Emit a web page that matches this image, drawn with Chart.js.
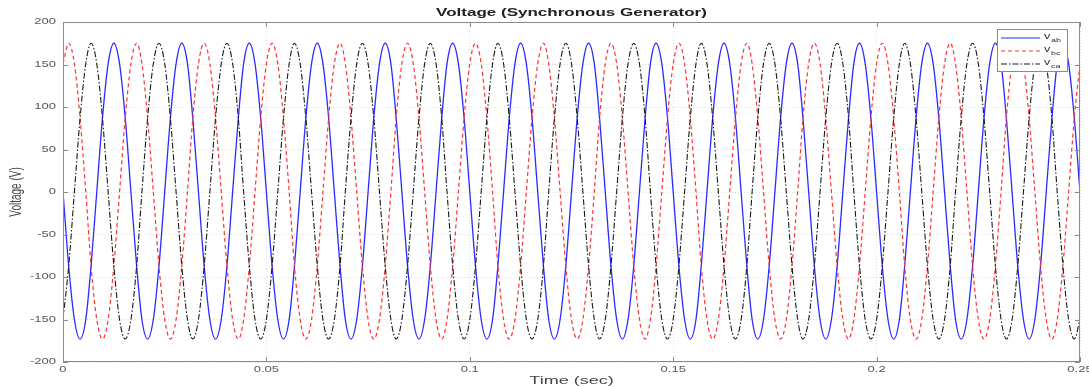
<!DOCTYPE html>
<html>
<head>
<meta charset="utf-8">
<title>Voltage (Synchronous Generator)</title>
<script src="https://cdn.jsdelivr.net/npm/chart.js@4.4.1/dist/chart.umd.min.js"></script>
<style>
	html, body { margin: 0; padding: 0; background: #ffffff; }
	#wrap { width: 1089px; height: 387px; position: relative; }
</style>
</head>
<body>
<div id="wrap"><canvas id="voltage-chart"></canvas></div>
<script>
// Sample times (s), one sample every 30 electrical degrees at 60 Hz.
const timeSec = [
	0, 0.0014, 0.0028, 0.0042, 0.0056, 0.0069, 0.0083, 0.0097, 0.0111, 0.0125, 0.0139, 0.0153,
	0.0167, 0.0181, 0.0194, 0.0208, 0.0222, 0.0236, 0.025, 0.0264, 0.0278, 0.0292, 0.0306, 0.0319,
	0.0333, 0.0347, 0.0361, 0.0375, 0.0389, 0.0403, 0.0417, 0.0431, 0.0444, 0.0458, 0.0472, 0.0486,
	0.05, 0.0514, 0.0528, 0.0542, 0.0556, 0.0569, 0.0583, 0.0597, 0.0611, 0.0625, 0.0639, 0.0653,
	0.0667, 0.0681, 0.0694, 0.0708, 0.0722, 0.0736, 0.075, 0.0764, 0.0778, 0.0792, 0.0806, 0.0819,
	0.0833, 0.0847, 0.0861, 0.0875, 0.0889, 0.0903, 0.0917, 0.0931, 0.0944, 0.0958, 0.0972, 0.0986,
	0.1, 0.1014, 0.1028, 0.1042, 0.1056, 0.1069, 0.1083, 0.1097, 0.1111, 0.1125, 0.1139, 0.1153,
	0.1167, 0.1181, 0.1194, 0.1208, 0.1222, 0.1236, 0.125, 0.1264, 0.1278, 0.1292, 0.1306, 0.1319,
	0.1333, 0.1347, 0.1361, 0.1375, 0.1389, 0.1403, 0.1417, 0.1431, 0.1444, 0.1458, 0.1472, 0.1486,
	0.15, 0.1514, 0.1528, 0.1542, 0.1556, 0.1569, 0.1583, 0.1597, 0.1611, 0.1625, 0.1639, 0.1653,
	0.1667, 0.1681, 0.1694, 0.1708, 0.1722, 0.1736, 0.175, 0.1764, 0.1778, 0.1792, 0.1806, 0.1819,
	0.1833, 0.1847, 0.1861, 0.1875, 0.1889, 0.1903, 0.1917, 0.1931, 0.1944, 0.1958, 0.1972, 0.1986,
	0.2, 0.2014, 0.2028, 0.2042, 0.2056, 0.2069, 0.2083, 0.2097, 0.2111, 0.2125, 0.2139, 0.2153,
	0.2167, 0.2181, 0.2194, 0.2208, 0.2222, 0.2236, 0.225, 0.2264, 0.2278, 0.2292, 0.2306, 0.2319,
	0.2333, 0.2347, 0.2361, 0.2375, 0.2389, 0.2403, 0.2417, 0.2431, 0.2444, 0.2458, 0.2472, 0.2486,
	0.25
];

// Line voltages (V).
const vAb = [
	0, -87, -150, -173, -150, -87, 0, 87, 151, 175, 151, 87,
	0, -87, -150, -173, -150, -87, 0, 87, 151, 175, 151, 87,
	0, -87, -150, -173, -150, -87, 0, 87, 151, 175, 151, 87,
	0, -87, -150, -173, -150, -87, 0, 87, 151, 175, 151, 87,
	0, -87, -150, -173, -150, -87, 0, 87, 151, 175, 151, 87,
	0, -87, -150, -173, -150, -87, 0, 87, 151, 175, 151, 87,
	0, -87, -150, -173, -150, -87, 0, 87, 151, 175, 151, 87,
	0, -87, -150, -173, -150, -87, 0, 87, 151, 175, 151, 87,
	0, -87, -150, -173, -150, -87, 0, 87, 151, 175, 151, 87,
	0, -87, -150, -173, -150, -87, 0, 87, 151, 175, 151, 87,
	0, -87, -150, -173, -150, -87, 0, 87, 151, 175, 151, 87,
	0, -87, -150, -173, -150, -87, 0, 87, 151, 175, 151, 87,
	0, -87, -150, -173, -150, -87, 0, 87, 151, 175, 151, 87,
	0, -87, -150, -173, -150, -87, 0, 87, 151, 175, 151, 87,
	0, -87, -150, -173, -150, -87, 0, 87, 151, 175, 151, 87,
	0
];
const vBc = [
	151, 175, 151, 87, 0, -87, -150, -173, -150, -87, 0, 87,
	151, 175, 151, 87, 0, -87, -150, -173, -150, -87, 0, 87,
	151, 175, 151, 87, 0, -87, -150, -173, -150, -87, 0, 87,
	151, 175, 151, 87, 0, -87, -150, -173, -150, -87, 0, 87,
	151, 175, 151, 87, 0, -87, -150, -173, -150, -87, 0, 87,
	151, 175, 151, 87, 0, -87, -150, -173, -150, -87, 0, 87,
	151, 175, 151, 87, 0, -87, -150, -173, -150, -87, 0, 87,
	151, 175, 151, 87, 0, -87, -150, -173, -150, -87, 0, 87,
	151, 175, 151, 87, 0, -87, -150, -173, -150, -87, 0, 87,
	151, 175, 151, 87, 0, -87, -150, -173, -150, -87, 0, 87,
	151, 175, 151, 87, 0, -87, -150, -173, -150, -87, 0, 87,
	151, 175, 151, 87, 0, -87, -150, -173, -150, -87, 0, 87,
	151, 175, 151, 87, 0, -87, -150, -173, -150, -87, 0, 87,
	151, 175, 151, 87, 0, -87, -150, -173, -150, -87, 0, 87,
	151, 175, 151, 87, 0, -87, -150, -173, -150, -87, 0, 87,
	151
];
const vCa = [
	-150, -87, 0, 87, 151, 175, 151, 87, 0, -87, -150, -173,
	-150, -87, 0, 87, 151, 175, 151, 87, 0, -87, -150, -173,
	-150, -87, 0, 87, 151, 175, 151, 87, 0, -87, -150, -173,
	-150, -87, 0, 87, 151, 175, 151, 87, 0, -87, -150, -173,
	-150, -87, 0, 87, 151, 175, 151, 87, 0, -87, -150, -173,
	-150, -87, 0, 87, 151, 175, 151, 87, 0, -87, -150, -173,
	-150, -87, 0, 87, 151, 175, 151, 87, 0, -87, -150, -173,
	-150, -87, 0, 87, 151, 175, 151, 87, 0, -87, -150, -173,
	-150, -87, 0, 87, 151, 175, 151, 87, 0, -87, -150, -173,
	-150, -87, 0, 87, 151, 175, 151, 87, 0, -87, -150, -173,
	-150, -87, 0, 87, 151, 175, 151, 87, 0, -87, -150, -173,
	-150, -87, 0, 87, 151, 175, 151, 87, 0, -87, -150, -173,
	-150, -87, 0, 87, 151, 175, 151, 87, 0, -87, -150, -173,
	-150, -87, 0, 87, 151, 175, 151, 87, 0, -87, -150, -173,
	-150, -87, 0, 87, 151, 175, 151, 87, 0, -87, -150, -173,
	-150
];

const xTickValues = [0, 0.05, 0.1, 0.15, 0.2, 0.25];
const xTickLabels = ['0', '0.05', '0.1', '0.15', '0.2', '0.25'];
const yTickValues = [-200, -150, -100, -50, 0, 50, 100, 150, 200];
const yTickLabels = ['-200', '-150', '-100', '-50', '0', '50', '100', '150', '200'];

const seriesNames = [['v', 'ab'], ['v', 'bc'], ['v', 'ca']];
const colors = { ab: '#2b2bff', bc: '#ff3030', ca: '#1a1a1a', axis: '#8a8a8a', text: '#5a5a5a' };
const fontFamily = '"Liberation Sans", Arial, sans-serif';

function toPoints(values) {
	return values.map(function(v, i) { return { x: timeSec[i], y: v }; });
}

// The source figure is stretched sideways, so text is drawn wider than tall.
function stretchedText(ctx, text, x, y, align, font, sx) {
	ctx.save();
	ctx.translate(x, y);
	ctx.scale(sx, 1);
	ctx.font = font;
	ctx.textAlign = align;
	ctx.textBaseline = 'middle';
	ctx.fillText(text, 0, 0);
	ctx.restore();
}

// Box, inward ticks, texts and legend drawn in MATLAB style.
const matlabFrame = {
	id: 'matlabFrame',
	afterDatasetsDraw: function(chart) {
		const ctx = chart.ctx;
		const area = chart.chartArea;
		const xs = chart.scales.x;
		const ys = chart.scales.y;
		ctx.save();
		ctx.strokeStyle = colors.axis;
		ctx.lineWidth = 1;
		ctx.strokeRect(area.left + 0.5, area.top + 0.5, area.right - area.left - 1, area.bottom - area.top - 1);

		ctx.beginPath();
		xTickValues.forEach(function(v) {
			const px = Math.round(xs.getPixelForValue(v)) + 0.5;
			ctx.moveTo(px, area.bottom); ctx.lineTo(px, area.bottom - 5);
			ctx.moveTo(px, area.top); ctx.lineTo(px, area.top + 5);
		});
		yTickValues.forEach(function(v) {
			const py = Math.round(ys.getPixelForValue(v)) + 0.5;
			ctx.moveTo(area.left, py); ctx.lineTo(area.left + 5, py);
			ctx.moveTo(area.right, py); ctx.lineTo(area.right - 5, py);
		});
		ctx.stroke();

		// Tick labels.
		ctx.fillStyle = colors.text;
		xTickValues.forEach(function(v, i) {
			stretchedText(ctx, xTickLabels[i], xs.getPixelForValue(v), 370, 'center', '9px ' + fontFamily, 1.45);
		});
		yTickValues.forEach(function(v, i) {
			stretchedText(ctx, yTickLabels[i], area.left - 7, ys.getPixelForValue(v), 'right', '9px ' + fontFamily, 1.45);
		});

		// Axis titles.
		ctx.fillStyle = '#444444';
		stretchedText(ctx, 'Time (sec)', (area.left + area.right) / 2, 381, 'center', '10px ' + fontFamily, 1.8);
		ctx.save();
		ctx.translate(17, (area.top + area.bottom) / 2);
		ctx.rotate(-Math.PI / 2);
		ctx.scale(1, 1.6);
		ctx.font = '10px ' + fontFamily;
		ctx.textAlign = 'center';
		ctx.textBaseline = 'middle';
		ctx.fillText('Voltage (V)', 0, 0);
		ctx.restore();

		// Title.
		ctx.fillStyle = '#222222';
		stretchedText(ctx, 'Voltage (Synchronous Generator)', (area.left + area.right) / 2, 13.5, 'center', 'bold 10px ' + fontFamily, 1.7);

		// Legend box.
		const lx = 997, ly = 29, lw = 70, lh = 42;
		ctx.fillStyle = '#ffffff';
		ctx.fillRect(lx, ly, lw, lh);
		ctx.strokeStyle = colors.axis;
		ctx.strokeRect(lx + 0.5, ly + 0.5, lw, lh);
		chart.data.datasets.forEach(function(ds, i) {
			const y = ly + 9 + i * 13;
			ctx.strokeStyle = ds.borderColor;
			ctx.lineWidth = 1.2;
			ctx.setLineDash(ds.borderDash || []);
			ctx.beginPath();
			ctx.moveTo(lx + 4, y);
			ctx.lineTo(lx + 43, y);
			ctx.stroke();
			ctx.setLineDash([]);
			ctx.fillStyle = '#333333';
			stretchedText(ctx, seriesNames[i][0], lx + 47, y - 1, 'left', '9px ' + fontFamily, 1.4);
			stretchedText(ctx, seriesNames[i][1], lx + 54, y + 2, 'left', '6px ' + fontFamily, 1.5);
		});
		ctx.restore();
	}
};

new Chart(document.getElementById('voltage-chart'), {
	type: 'line',
	data: {
		datasets: [
			{
				label: 'v_ab',
				data: toPoints(vAb),
				borderColor: colors.ab,
				borderWidth: 1.3,
				pointRadius: 0,
				cubicInterpolationMode: 'monotone',
				order: 2
			},
			{
				label: 'v_bc',
				data: toPoints(vBc),
				borderColor: colors.bc,
				borderWidth: 1.2,
				borderDash: [4, 3],
				pointRadius: 0,
				cubicInterpolationMode: 'monotone',
				order: 1
			},
			{
				label: 'v_ca',
				data: toPoints(vCa),
				borderColor: colors.ca,
				borderWidth: 1.1,
				borderDash: [6, 2, 1.5, 2],
				pointRadius: 0,
				cubicInterpolationMode: 'monotone',
				order: 0
			}
		]
	},
	options: {
		responsive: true,
		maintainAspectRatio: false,
		animation: false,
		layout: { padding: { top: 22, right: 9, left: 0, bottom: 0 } },
		plugins: {
			legend: { display: false },
			title: { display: false },
			tooltip: { enabled: false }
		},
		scales: {
			x: {
				type: 'linear',
				min: 0,
				max: 0.25,
				afterBuildTicks: function(scale) {
					scale.ticks = xTickValues.map(function(v) { return { value: v }; });
				},
				afterFit: function(scale) { scale.height = 25; },
				grid: { color: 'rgba(0, 0, 0, 0.12)', drawTicks: false },
				border: { display: false, dash: [1, 2] },
				ticks: { display: false }
			},
			y: {
				min: -200,
				max: 200,
				afterBuildTicks: function(scale) {
					scale.ticks = yTickValues.map(function(v) { return { value: v }; });
				},
				afterFit: function(scale) { scale.width = 63; },
				grid: { color: 'rgba(0, 0, 0, 0.12)', drawTicks: false },
				border: { display: false, dash: [1, 2] },
				ticks: { display: false }
			}
		}
	},
	plugins: [matlabFrame]
});
</script>
</body>
</html>
